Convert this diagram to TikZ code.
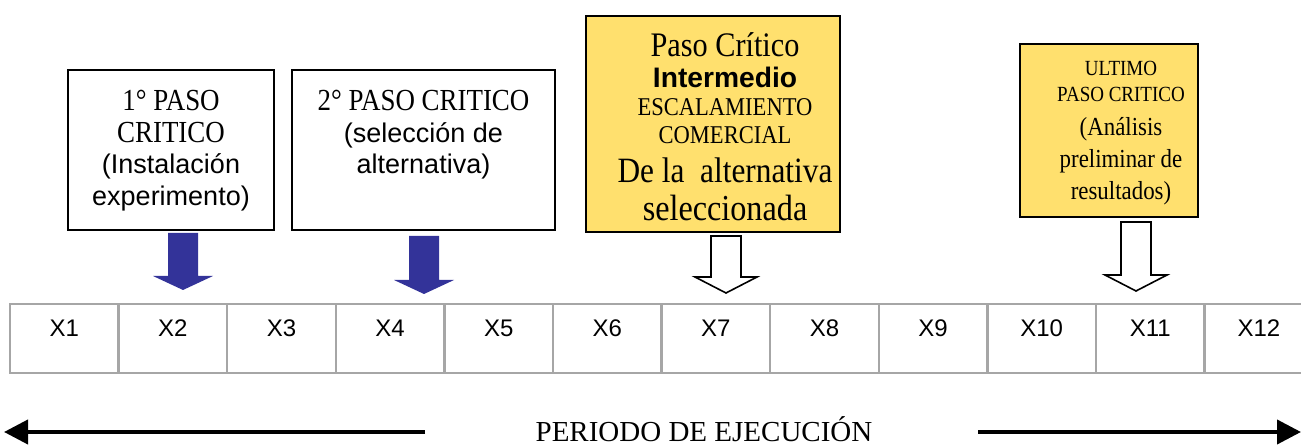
\documentclass[tikz,border=0pt]{standalone}
\usepackage{fontspec}
\setmainfont{Liberation Serif}[FakeStretch=0.88]
\setsansfont{Liberation Sans}
\newfontfamily\ancha{Liberation Serif}
\usetikzlibrary{positioning,arrows.meta}
\definecolor{azulflecha}{HTML}{333399}
\definecolor{amarillo}{HTML}{FFE06E}
\definecolor{gris}{HTML}{A6A6A6}
\newcommand{\tam}[1]{\fontsize{#1}{#1}\selectfont}
\tikzset{
	caja/.style={draw, line width=1pt, inner sep=0pt, anchor=north west},
	cajaamarilla/.style={caja, fill=amarillo},
	texto/.style={inner sep=0pt, align=center},
	rejilla/.style={gris, line width=1.2pt},
	bloqueazul/.style={fill=azulflecha},
	bloquehueco/.style={draw, fill=white, line width=0.8pt},
	periodo/.style={line width=2pt, -{Triangle[length=12pt,width=12pt]}}
}
\begin{document}
\begin{tikzpicture}[x=0.5pt,y=-0.5pt]
	\useasboundingbox (0,0) rectangle (1301,448);
	\clip (0,0) rectangle (1301,448);
	% cajas de los pasos
	\node[caja, minimum width=103pt, minimum height=80pt] (paso1) at (67,69) {};
	\node[caja, minimum width=131.5pt, minimum height=80pt] (paso2) at (291,69) {};
	\node[cajaamarilla, minimum width=127pt, minimum height=108pt] (paso3) at (585,15) {};
	\node[cajaamarilla, minimum width=89pt, minimum height=86.5pt] (paso4) at (1019,43) {};
	\node[texto, below=10.5pt of paso1.north, font=\fontsize{15.3}{15.75}\selectfont] (texto1)
		{1° PASO\\CRITICO\\{\sffamily\tam{13.5}(Instalación}\\{\sffamily\tam{13.5}experimento)}};
	\node[texto, below=10.5pt of paso2.north, font=\fontsize{15.3}{15.75}\selectfont] (texto2)
		{2° PASO CRITICO\\{\sffamily\tam{13.5}(selección de}\\{\sffamily\tam{13.5}alternativa)}};
	\node[texto, below=8.7pt of paso3.north, xshift=6pt, font=\fontsize{11}{14}\selectfont] (texto3)
		{{\tam{17.2}Paso Crítico}\\[1.3pt]{\sffamily\bfseries\tam{14.1}Intermedio}\\[0.25pt]
		{\tam{12.8}ESCALAMIENTO}\\{\tam{12.8}COMERCIAL}\\[5.25pt]
		{\tam{17.8}De la\ \ alternativa}\\[5.2pt]{\tam{18.3}seleccionada}};
	\node[texto, below=8.9pt of paso4.north, xshift=6pt, font=\fontsize{10}{13}\selectfont] (texto4)
		{{\tam{10.8}ULTIMO}\\{\tam{10.8}PASO CRITICO}\\[4.2pt]{\tam{13}(Análisis}\\[2.7pt]
		{\tam{13}preliminar de}\\[3pt]{\tam{13}resultados)}};
	% flechas de bloque
	\foreach \cx/\ya/\yb in {183/233/290, 424/236/294}
		\fill[bloqueazul] (\cx-15,\ya) -- (\cx+15,\ya) -- (\cx+15,\yb-14) -- (\cx+30,\yb-14)
			-- (\cx,\yb) -- (\cx-30,\yb-14) -- (\cx-15,\yb-14) -- cycle;
	\foreach \cx/\ya/\yb in {726/236/293, 1136/222/291}
		\draw[bloquehueco] (\cx-15,\ya) -- (\cx+15,\ya) -- (\cx+15,\yb-16) -- (\cx+31,\yb-16)
			-- (\cx,\yb) -- (\cx-31,\yb-16) -- (\cx-15,\yb-16) -- cycle;
	% tabla de periodos
	\draw[rejilla] (10,304) rectangle (1313,373);
	\foreach \i in {1,...,11}
		\draw[rejilla] ({10+108.6*\i},304) -- ({10+108.6*\i},373);
	\foreach \i in {1,...,12}
		\node[font=\sffamily\tam{12}] (x\i) at ({10+108.6*(\i-0.5)},328) {X\i};
	% periodo de ejecucion
	\node[anchor=base, font=\ancha\tam{14.5}] (ejec) at (704,442) {PERIODO DE EJECUCIÓN};
	\coordinate (izqa) at (425,432);
	\coordinate (izqb) at (4,432);
	\coordinate (dera) at (978,432);
	\coordinate (derb) at (1301,432);
	\draw[periodo] (izqa) -- (izqb);
	\draw[periodo] (dera) -- (derb);
\end{tikzpicture}
\end{document}
